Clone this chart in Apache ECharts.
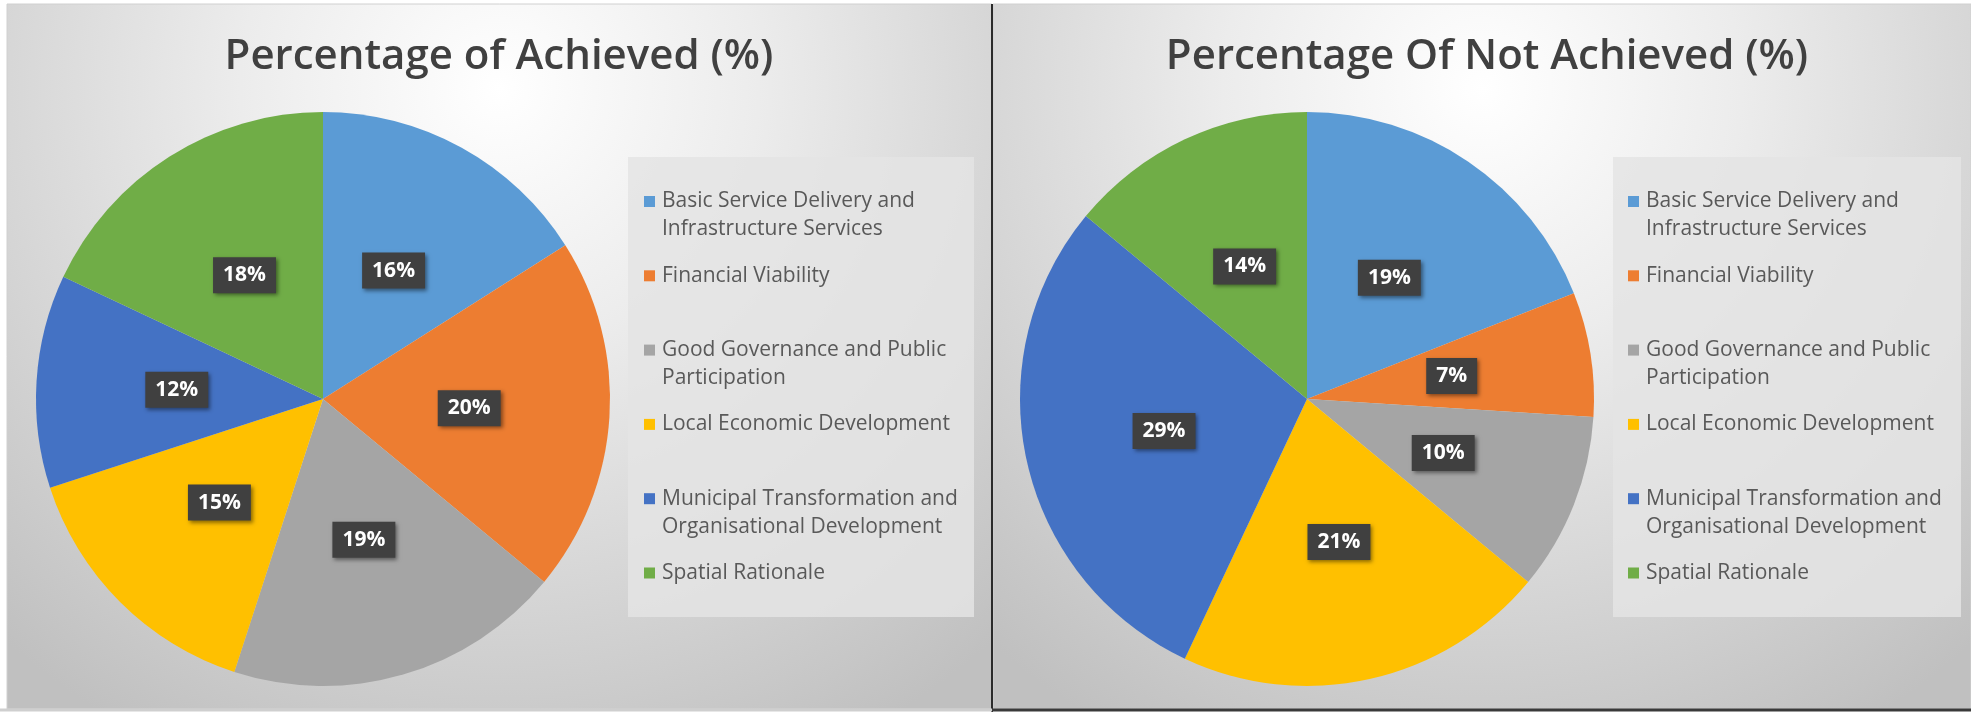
<!DOCTYPE html>
<html>
<head>
<meta charset="utf-8">
<script src="https://cdn.jsdelivr.net/npm/echarts@6/dist/echarts.min.js"></script>
<style>
  html, body { margin: 0; padding: 0; background: #ffffff; }
  #chart { width: 1971px; height: 712px; }
</style>
</head>
<body>
<div id="chart"></div>
<script>
// KPI focus areas and their share of achieved / not achieved targets
const categories = [
  'Basic Service Delivery and\nInfrastructure Services',
  'Financial Viability',
  'Good Governance and Public\nParticipation',
  'Local Economic Development',
  'Municipal Transformation and\nOrganisational Development',
  'Spatial Rationale'
];
const achievedPct = [16, 20, 19, 15, 12, 18];
const notAchievedPct = [19, 7, 10, 21, 29, 14];
const titles = ['Percentage of Achieved (%)', 'Percentage Of Not Achieved (%)'];
const colors = ['#5B9BD5', '#ED7D31', '#A5A5A5', '#FFC000', '#4472C4', '#70AD47'];

const chart = echarts.init(document.getElementById('chart'), null, { renderer: 'canvas' });

const FONT = '"Open Sans", "Noto Sans", sans-serif';

// legend rich styles: one coloured swatch per category
const legendRich = {
  t: { fontFamily: FONT, fontSize: 21, color: '#595959', lineHeight: 28, padding: [0, 0, 0, 7] },
  s: { width: 11, height: 11 }
};
colors.forEach((c, i) => { legendRich['m' + i] = { width: 11, height: 11, backgroundColor: c }; });

function legendFormatter(name) {
  const i = categories.indexOf(name);
  const lines = name.split('\n');
  const first = `{m${i}|}{t|${lines[0]}}`;
  const second = lines.length > 1 ? `{s|}{t|${lines[1]}}` : `{s|}{t| }`;
  return first + '\n' + second;
}

function makeLegend(left) {
  return {
    orient: 'vertical',
    left: left,
    top: 191,
    padding: 0,
    itemGap: 25.3,
    icon: 'none',
    itemWidth: 0,
    itemHeight: 0,
    selectedMode: false,
    data: categories,
    formatter: legendFormatter,
    textStyle: { rich: legendRich, padding: 0 }
  };
}

function makePie(centerX, values) {
  return {
    type: 'pie',
    center: [centerX, 399],
    radius: 287,
    startAngle: 90,
    clockwise: true,
    avoidLabelOverlap: false,
    silent: true,
    data: categories.map((name, i) => ({ name: name, value: values[i], itemStyle: { color: colors[i] } })),
    itemStyle: { borderWidth: 0 },
    label: {
      show: true,
      position: 'inside',
      formatter: '{c}%',
      fontFamily: FONT,
      fontWeight: 'bold',
      fontSize: 21,
      color: '#ffffff',
      backgroundColor: '#404040',
      padding: [8, 10, 7, 10],
      shadowColor: 'rgba(0,0,0,0.45)',
      shadowBlur: 4,
      shadowOffsetX: 2,
      shadowOffsetY: 2
    },
    labelLine: { show: false }
  };
}

function panelBackground(x, w) {
  return {
    type: 'rect',
    z: -10,
    shape: { x: x, y: 4, width: w, height: 705 },
    style: {
      fill: new echarts.graphic.RadialGradient(0.5, 0.12, 1.05, [
        { offset: 0, color: '#ffffff' },
        { offset: 0.35, color: '#ececec' },
        { offset: 1, color: '#c0c0c0' }
      ]),
      stroke: '#d0d0d0',
      lineWidth: 1
    },
    silent: true
  };
}

function legendBox(x, w) {
  return {
    type: 'rect',
    z: -5,
    shape: { x: x, y: 157, width: w, height: 460 },
    style: { fill: 'rgba(228,228,228,0.85)' },
    silent: true
  };
}

const titleStyle = { fontFamily: FONT, fontWeight: 600, fontSize: 42, color: '#404040' };

chart.setOption({
  animation: false,
  backgroundColor: '#ffffff',
  title: [
    { text: titles[0], left: 494, top: 31, textAlign: 'center', textStyle: titleStyle },
    { text: titles[1], left: 1482, top: 31, textAlign: 'center', textStyle: titleStyle }
  ],
  legend: [makeLegend(639), makeLegend(1623)],
  graphic: [
    panelBackground(7, 985),
    panelBackground(993, 978),
    legendBox(628, 346),
    legendBox(1613, 348),
    { type: 'line', z: -4, silent: true, shape: { x1: 992, y1: 4, x2: 992, y2: 712 }, style: { stroke: '#2b2b2b', lineWidth: 2 } },
    { type: 'line', z: -4, silent: true, shape: { x1: 992, y1: 710, x2: 1971, y2: 710 }, style: { stroke: '#3a3a3a', lineWidth: 3 } },
    { type: 'line', z: -4, silent: true, shape: { x1: 0, y1: 710, x2: 992, y2: 710 }, style: { stroke: '#cfcfcf', lineWidth: 3 } }
  ],
  series: [makePie(323, achievedPct), makePie(1307, notAchievedPct)]
});
</script>
</body>
</html>
